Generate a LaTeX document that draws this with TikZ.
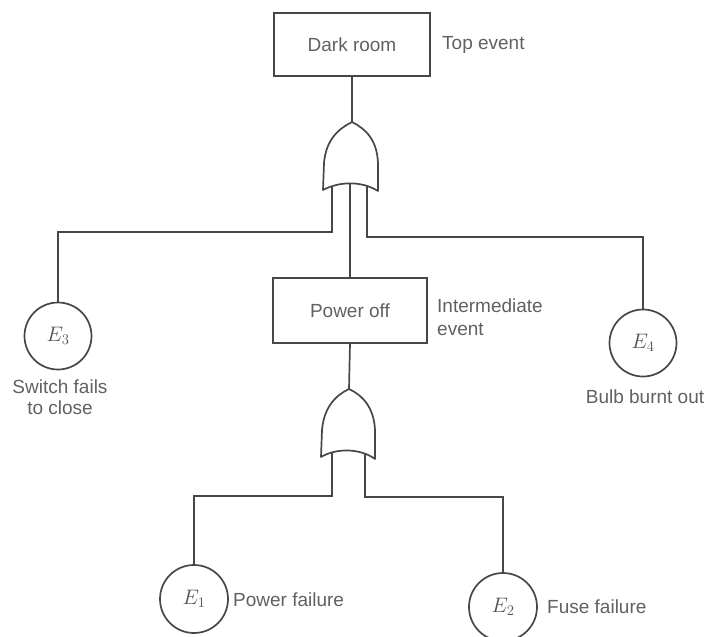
\documentclass[tikz,border=0pt]{standalone}
\usepackage{fix-cm}
\usepackage{fontspec}
\setmainfont{Liberation Sans}
\begin{document}
\begin{tikzpicture}[x=1pt,y=-1pt,
  ink/.style={draw=black!72, line width=1.7pt},
  evbox/.style={ink, rectangle, inner sep=0pt, text=black!62,
    font=\fontsize{19}{23}\selectfont},
  basic/.style={ink, circle, inner sep=0pt, minimum size=67pt, text=black!68,
    font=\fontsize{21}{24}\selectfont},
  gate/.style={ink, fill=white, line join=round},
  conn/.style={ink},
  lbl/.style={text=black!62, inner sep=0pt, font=\fontsize{19}{23}\selectfont}]

\useasboundingbox (0,0) rectangle (713,637);
\fill[white] (0,0) rectangle (713,637);

% events
\node[evbox, minimum width=156pt, minimum height=63pt] (top) at (352,44.5) {Dark room};
\node[evbox, minimum width=154pt, minimum height=65pt] (pwr) at (350,310.5) {Power off};
\node[basic] (e3) at (58,336) {$E_3$};
\node[basic] (e4) at (643,343) {$E_4$};
\node[basic, minimum size=68pt] (e1) at (194,599) {$E_1$};
\node[basic, minimum size=68pt] (e2) at (503,607) {$E_2$};

% labels
\node[lbl, anchor=west] (ltop) at (442,45) {Top event};
\node[lbl, anchor=west, align=left] (lint) at (437,317) {Intermediate\\event};
\node[lbl, align=center, font=\fontsize{19}{21}\selectfont] (le3) at (60,397) {Switch fails\\to close};
\node[lbl] (le4) at (645,397) {Bulb burnt out};
\node[lbl, anchor=west] (le1) at (233,600) {Power failure};
\node[lbl, anchor=west] (le2) at (547,607) {Fuse failure};

% gate terminals
\coordinate (g1tip) at (352,122);
\coordinate (g1inL) at (332,180);
\coordinate (g1inM) at (350,180);
\coordinate (g1inR) at (367,180);
\coordinate (busL) at (332,232);
\coordinate (busR) at (367,237);
\coordinate (g2tip) at (349,389);
\coordinate (g2inL) at (332,448);
\coordinate (g2inR) at (365,448);
\coordinate (bus2L) at (332,496);
\coordinate (bus2R) at (365,497);

% connectors
\draw[conn] (top.south) -- (g1tip);
\draw[conn] (g1inL) -- (busL) -| (e3.north);
\draw[conn] (g1inR) -- (busR) -| (e4.north);
\draw[conn] (g1inM) -- (pwr.north);
\draw[conn] (pwr.south) -- (g2tip);
\draw[conn] (g2inL) -- (bus2L) -| (e1.north);
\draw[conn] (g2inR) -- (bus2R) -| (e2.north);

% OR gates
\draw[gate] (323,190) -- (324,163)
  .. controls (326,140) and (338,129) .. (g1tip)
  .. controls (366,129) and (377,140) .. (378,163)
  -- (378,191) .. controls (362,181) and (340,181) .. (323,190) -- cycle;
\draw[gate] (321,457) -- (322,430)
  .. controls (324,407) and (336,395) .. (g2tip)
  .. controls (362,395) and (374,407) .. (375,430)
  -- (375,459) .. controls (360,448) and (336,448) .. (321,457) -- cycle;
\end{tikzpicture}
\end{document}
